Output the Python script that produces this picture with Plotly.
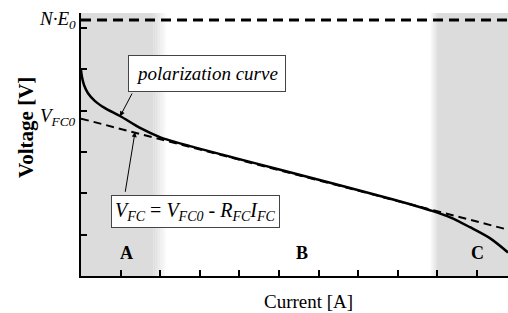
import plotly.graph_objects as go

# ---- data (x in tick units of current, y in tick units of voltage)
curve_current = [0.0, 0.025, 0.076, 0.177, 0.354, 0.606, 0.985, 1.49, 1.99, 2.75,
                 3.76, 5.03, 6.29, 7.55, 8.31, 8.81, 9.32, 9.82, 10.33, 10.78]
curve_voltage = [4.98, 4.81, 4.62, 4.42, 4.23, 4.06, 3.87, 3.58, 3.36, 3.14,
                 2.885, 2.57, 2.255, 1.935, 1.735, 1.59, 1.42, 1.18, 0.91, 0.57]
linear_current = [0.0, 10.78]
linear_voltage = [3.806, 1.12]
ne0_voltage = 6.19
vfc0_voltage = 3.806
x_ticks = [1, 2, 3, 4, 5, 6, 7, 8, 9, 10]
y_ticks = [1, 2, 3, 4, 5, 6]
region_labels = ["A", "B", "C"]
region_label_x = [1.16, 5.58, 10.02]
region_A = [0.0, 1.83, 2.17]      # solid start, solid end, fade end
region_C = [8.81, 8.99, 10.78]    # fade start, solid start, end
x_range = [0, 10.78]
y_range = [0, 6.36]

GRAY = "220,220,220"
SERIF = "'Liberation Serif', 'Times New Roman', serif"

fig = go.Figure()

fig.add_trace(go.Scatter(x=linear_current, y=linear_voltage, mode="lines",
                         line=dict(color="black", width=2, dash="8px,5px"),
                         hoverinfo="skip", showlegend=False))
fig.add_trace(go.Scatter(x=curve_current, y=curve_voltage, mode="lines",
                         line=dict(color="black", width=2.5, shape="spline", smoothing=0.8),
                         hoverinfo="skip", showlegend=False))
fig.add_trace(go.Scatter(x=x_range, y=[ne0_voltage, ne0_voltage], mode="lines",
                         line=dict(color="black", width=3, dash="10px,6px"),
                         hoverinfo="skip", showlegend=False, cliponaxis=False))

shapes = []
shapes.append(dict(type="rect", xref="x", yref="y", x0=region_A[0], x1=region_A[1],
                   y0=y_range[0], y1=y_range[1], fillcolor=f"rgb({GRAY})",
                   line=dict(width=0), layer="below"))
n = 8
for i in range(n):
    a0 = region_A[1] + (region_A[2] - region_A[1]) * i / n
    a1 = region_A[1] + (region_A[2] - region_A[1]) * (i + 1) / n
    shapes.append(dict(type="rect", xref="x", yref="y", x0=a0, x1=a1,
                       y0=y_range[0], y1=y_range[1],
                       fillcolor=f"rgba({GRAY},{1 - (i + 0.5) / n:.3f})",
                       line=dict(width=0), layer="below"))
shapes.append(dict(type="rect", xref="x", yref="y", x0=region_C[1], x1=region_C[2],
                   y0=y_range[0], y1=y_range[1], fillcolor=f"rgb({GRAY})",
                   line=dict(width=0), layer="below"))
for i in range(n):
    a0 = region_C[0] + (region_C[1] - region_C[0]) * i / n
    a1 = region_C[0] + (region_C[1] - region_C[0]) * (i + 1) / n
    shapes.append(dict(type="rect", xref="x", yref="y", x0=a0, x1=a1,
                       y0=y_range[0], y1=y_range[1],
                       fillcolor=f"rgba({GRAY},{(i + 0.5) / n:.3f})",
                       line=dict(width=0), layer="below"))

W, H = 508, 313
L, R, T, B = 81, 0, 13, 37
PW, PH = W - L - R, H - T - B

annotations = []
for lab, xx in zip(region_labels, region_label_x):
    annotations.append(dict(x=xx, y=0.55, xref="x", yref="y", text=f"<b>{lab}</b>",
                            showarrow=False, font=dict(family=SERIF, size=18, color="black")))
annotations.append(dict(x=0, y=ne0_voltage, xref="x", yref="y", xanchor="right", xshift=-3,
                        text="<i>N·E<sub>0</sub></i>", showarrow=False,
                        font=dict(family=SERIF, size=19, color="black")))
annotations.append(dict(x=0, y=vfc0_voltage, xref="x", yref="y", xanchor="right", xshift=-3,
                        yshift=2, text="<i>V<sub>FC0</sub></i>", showarrow=False,
                        font=dict(family=SERIF, size=19, color="black")))
annotations.append(dict(x=0.985, y=3.86, ax=1.31, ay=4.45, xref="x", yref="y",
                        axref="x", ayref="y", text="", showarrow=True, arrowhead=2,
                        arrowsize=1, arrowwidth=1, arrowcolor="black"))
annotations.append(dict(x=1.364, y=3.48, ax=1.111, ay=2.0, xref="x", yref="y",
                        axref="x", ayref="y", text="", showarrow=True, arrowhead=2,
                        arrowsize=1, arrowwidth=1, arrowcolor="black"))
annotations.append(dict(x=3.18, y=4.885, xref="x", yref="y", text="<i>polarization curve</i>",
                        showarrow=False, bgcolor="white", bordercolor="#444", borderwidth=1,
                        borderpad=7, font=dict(family=SERIF, size=19, color="black")))
annotations.append(dict(x=2.90, y=1.57, xref="x", yref="y",
                        text="<i>V<sub>FC</sub></i> = <i>V<sub>FC0</sub></i> - <i>R<sub>FC</sub>I<sub>FC</sub></i>",
                        showarrow=False, bgcolor="white", bordercolor="#444", borderwidth=1,
                        borderpad=3, font=dict(family=SERIF, size=20, color="black")))
# axis titles (pixel centres converted to domain fractions)
annotations.append(dict(x=(308 - L) / PW, y=-(301 - (H - B)) / PH,
                        xref="x domain", yref="y domain", xanchor="center", yanchor="middle",
                        text="Current [A]", showarrow=False,
                        font=dict(family=SERIF, size=19, color="black")))
annotations.append(dict(x=(26 - L) / PW, y=((H - B) - 128) / PH,
                        xref="x domain", yref="y domain", xanchor="center", yanchor="middle",
                        text="<b>Voltage [V]</b>", textangle=-90, showarrow=False,
                        font=dict(family=SERIF, size=21, color="black")))

fig.update_layout(
    width=W, height=H,
    margin=dict(l=L, r=R, t=T, b=B, autoexpand=False),
    plot_bgcolor="white", paper_bgcolor="white",
    shapes=shapes, annotations=annotations,
    showlegend=False,
    xaxis=dict(range=x_range, tickvals=x_ticks, ticktext=[""] * len(x_ticks),
               ticks="inside", ticklen=6, tickwidth=1.5, tickcolor="black",
               showline=True, linecolor="black", linewidth=2, showgrid=False,
               zeroline=False, automargin=False),
    yaxis=dict(range=y_range, tickvals=y_ticks, ticktext=[""] * len(y_ticks),
               ticks="inside", ticklen=6, tickwidth=1.5, tickcolor="black",
               showline=True, linecolor="black", linewidth=2, showgrid=False,
               zeroline=False, automargin=False),
)

fig.write_html("out.html", config={"displayModeBar": False},
               post_script="document.body.style.margin='0';document.body.style.padding='0';")
